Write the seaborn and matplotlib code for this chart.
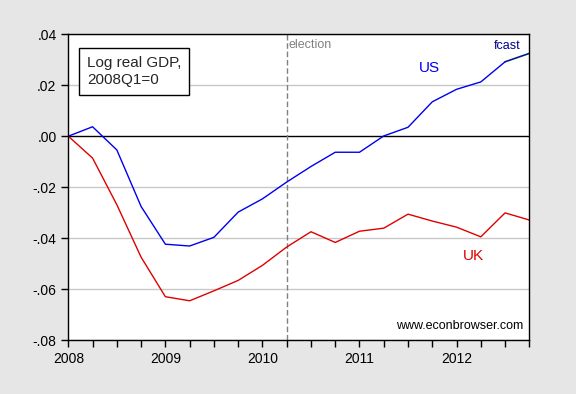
import numpy as np
import pandas as pd
import matplotlib
matplotlib.use("Agg")
import matplotlib.pyplot as plt
import seaborn as sns

# kwartały 2008Q1 .. 2012Q4 (jako ułamek roku)
quarters = [2008 + i * 0.25 for i in range(20)]
us = [0.0, 0.0037, -0.0054, -0.0276, -0.0424, -0.0431, -0.0397, -0.0298,
      -0.0246, -0.0180, -0.0119, -0.0063, -0.0063, 0.0001, 0.0035, 0.0135,
      0.0184, 0.0213, 0.0292, 0.0325]
uk = [0.0, -0.0086, -0.0269, -0.0475, -0.0630, -0.0646, -0.0607, -0.0566,
      -0.0507, -0.0435, -0.0375, -0.0417, -0.0373, -0.0361, -0.0306, -0.0333,
      -0.0357, -0.0395, -0.0301, -0.0329]
yticks = [-0.08, -0.06, -0.04, -0.02, 0.0, 0.02, 0.04]
ytick_labels = ["-.08", "-.06", "-.04", "-.02", ".00", ".02", ".04"]
year_ticks = [2008, 2009, 2010, 2011, 2012]
election = 2010.25

sns.set_style("white")
plt.rcParams['font.family'] = ['Liberation Sans', 'DejaVu Sans']

df = pd.DataFrame({"quarter": quarters, "US": us, "UK": uk})
hist = df.iloc[:-1]
fcast = df.iloc[-2:]

fig = plt.figure(figsize=(5.76, 3.94), dpi=100, facecolor="#E6E6E6")
ax = fig.add_axes([0.1186, 0.137, 0.8004, 0.776])
ax.set_facecolor("white")

for y in yticks:
    if y != 0:
        ax.axhline(y, color="#C8C8C8", lw=1, zorder=0)
ax.axhline(0, color="black", lw=1, zorder=1)
ax.axvline(election, color="gray", lw=1, ls=(0, (4, 2)), zorder=1)

sns.lineplot(data=df, x="quarter", y="UK", color="#E00000", lw=1, ax=ax)
sns.lineplot(data=hist, x="quarter", y="US", color="#0000F0", lw=1, ax=ax)
sns.lineplot(data=fcast, x="quarter", y="US", color="#00207F", lw=1.2, ax=ax)

ax.set_xlim(2008, 2012.75)
ax.set_ylim(-0.08, 0.04)
ax.set_yticks(yticks)
ax.set_yticklabels(ytick_labels)
ax.set_xticks(year_ticks)
ax.set_xticklabels([str(y) for y in year_ticks])
ax.set_xticks(quarters[:-1] + [2012.75], minor=True)
ax.set_xlabel("")
ax.set_ylabel("")
ax.tick_params(axis="both", which="both", direction="out", length=5, width=1,
               colors="black", labelsize=10, left=True, bottom=True)
ax.tick_params(axis="x", which="minor", length=5)
for s in ax.spines.values():
    s.set_color("black")
    s.set_linewidth(1.0)

ax.text(2011.72, 0.0268, "US", color="#0000F0", fontsize=11, ha="center", va="center")
ax.text(2012.17, -0.0469, "UK", color="#E00000", fontsize=11, ha="center", va="center")
ax.text(2012.52, 0.0354, "fcast", color="#00008B", fontsize=9, ha="center", va="center")
ax.text(2010.27, 0.0358, "election", color="gray", fontsize=9, ha="left", va="center")
ax.text(2012.03, -0.0744, "www.econbrowser.com", color="black", fontsize=9,
        ha="center", va="center")
ax.text(0.04, 0.93, "Log real GDP,\n2008Q1=0", transform=ax.transAxes, fontsize=11,
        ha="left", va="top", linespacing=1.3,
        bbox=dict(boxstyle="square,pad=0.5", facecolor="white", edgecolor="black", lw=1))

fig.savefig("out.png", dpi=100, facecolor=fig.get_facecolor())
